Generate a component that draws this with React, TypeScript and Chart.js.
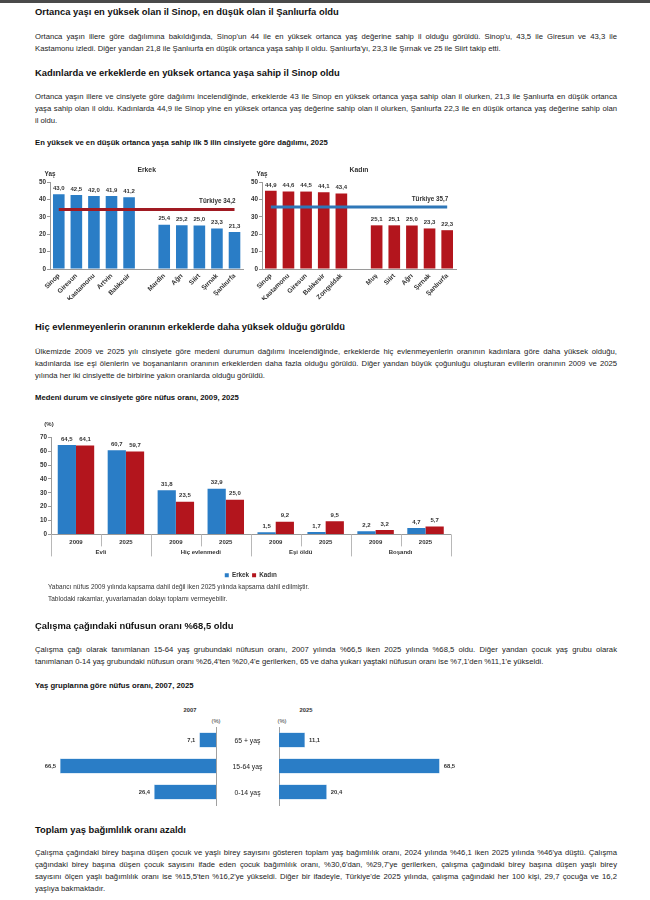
import React, { useEffect, useRef } from 'react';
import { Chart, registerables } from 'chart.js';
Chart.register(...registerables);

const FONT = "Arial, 'Liberation Sans', Helvetica, sans-serif";

// ---- Chart A: median age by province and sex, 2025 ----
const maleProvinces = ['Sinop', 'Giresun', 'Kastamonu', 'Artvin', 'Balıkesir', '', 'Mardin', 'Ağrı', 'Siirt', 'Şırnak', 'Şanlıurfa'];
const maleAges = [43.0, 42.5, 42.0, 41.9, 41.2, null, 25.4, 25.2, 25.0, 23.3, 21.3];
const maleTurkiye = 34.2;
const femaleProvinces = ['Sinop', 'Kastamonu', 'Giresun', 'Balıkesir', 'Zonguldak', '', 'Muş', 'Siirt', 'Ağrı', 'Şırnak', 'Şanlıurfa'];
const femaleAges = [44.9, 44.6, 44.5, 44.1, 43.4, null, 25.1, 25.1, 25.0, 23.3, 22.3];
const femaleTurkiye = 35.7;
const ageAxisMax = 50;
const ageAxisStep = 5;

// ---- Chart B: marital status by sex, 2009, 2025 ----
const maritalYears = ['2009', '2025', '2009', '2025', '2009', '2025', '2009', '2025'];
const maritalGroups = ['Evli', 'Hiç evlenmedi', 'Eşi öldü', 'Boşandı'];
const maritalMale = [64.5, 60.7, 31.8, 32.9, 1.5, 1.7, 2.2, 4.7];
const maritalFemale = [64.1, 59.7, 23.5, 25.0, 9.2, 9.5, 3.2, 5.7];
const maritalAxisMax = 70;
const maritalAxisStep = 10;

// ---- Chart C: population share by age group, 2007, 2025 ----
const ageGroups = ['65 + yaş', '15-64 yaş', '0-14 yaş'];
const share2007 = [7.1, 66.5, 26.4];
const share2025 = [11.1, 68.5, 20.4];
const shareAxisMax = 70;

const BLUE = '#2a7dc6';
const RED = '#b3151d';
const MALE_LINE = '#a01a22';
const FEMALE_LINE = '#2e77b8';
const AXIS = '#9a9a9a';
const LABEL = '#333';

const fmt = (v: number) => v.toFixed(1).replace('.', ',');

const valueLabels = (mode: 'top' | 'left' | 'right', font: string, gap: number) => ({
  id: 'valueLabels',
  afterDatasetsDraw(chart: any) {
    const { ctx } = chart;
    ctx.save();
    ctx.font = font;
    ctx.fillStyle = LABEL;
    chart.data.datasets.forEach((ds: any, i: number) => {
      const meta = chart.getDatasetMeta(i);
      if (meta.type !== 'bar') return;
      meta.data.forEach((el: any, j: number) => {
        const v = ds.data[j];
        if (v == null) return;
        if (mode === 'top') {
          ctx.textAlign = 'center';
          ctx.textBaseline = 'bottom';
          ctx.fillText(fmt(v), el.x, el.y - gap);
        } else if (mode === 'left') {
          ctx.textAlign = 'right';
          ctx.textBaseline = 'middle';
          ctx.fillText(fmt(v), el.x - gap, el.y);
        } else {
          ctx.textAlign = 'left';
          ctx.textBaseline = 'middle';
          ctx.fillText(fmt(v), el.x + gap, el.y);
        }
      });
    });
    ctx.restore();
  },
});

const panelDecor = (title: string, lineLabel: string) => ({
  id: 'panelDecor',
  afterDatasetsDraw(chart: any) {
    const { ctx, chartArea } = chart;
    ctx.save();
    ctx.fillStyle = LABEL;
    ctx.textBaseline = 'middle';
    ctx.textAlign = 'center';
    ctx.font = `bold 6.8px ${FONT}`;
    ctx.fillText(title, (chartArea.left + chartArea.right) / 2, chartArea.top - 12);
    ctx.font = `bold 6.3px ${FONT}`;
    ctx.fillText('Yaş', chartArea.left, chartArea.top - 8);
    const meta = chart.getDatasetMeta(0);
    const last = meta.data[meta.data.length - 1];
    ctx.textAlign = 'right';
    ctx.fillText(lineLabel, last.x + 1, last.y - 8);
    ctx.restore();
  },
});

const agePanelConfig = (labels: string[], values: (number | null)[], avg: number, barColor: string, lineColor: string, title: string, padRight: number) => ({
  type: 'bar',
  data: {
    labels,
    datasets: [
      {
        type: 'line',
        data: labels.map(() => avg),
        borderColor: lineColor,
        borderWidth: 3,
        pointRadius: 0,
        order: 0,
      },
      {
        type: 'bar',
        data: values,
        backgroundColor: barColor,
        barPercentage: 0.66,
        categoryPercentage: 1,
        order: 1,
      },
    ],
  },
  options: {
    responsive: false,
    animation: false,
    layout: { padding: { top: 22, right: padRight, bottom: 0, left: 0 } },
    plugins: { legend: { display: false }, tooltip: { enabled: false } },
    scales: {
      x: {
        grid: { display: false, drawTicks: false },
        border: { color: AXIS },
        ticks: {
          autoSkip: false,
          minRotation: 45,
          maxRotation: 45,
          padding: 3,
          color: LABEL,
          font: { size: 6.6, weight: 'bold', family: FONT },
        },
        afterFit: (s: any) => { s.height = 31; },
      },
      y: {
        min: 0,
        max: ageAxisMax,
        ticks: { stepSize: ageAxisStep, padding: 1, color: LABEL, font: { size: 6.3, weight: 'bold', family: FONT } },
        grid: { display: true, drawOnChartArea: false, tickLength: 3, color: AXIS },
        border: { color: AXIS },
        afterFit: (s: any) => { s.width = 30; },
      },
    },
  },
  plugins: [valueLabels('top', `bold 6px ${FONT}`, 3), panelDecor(title, `Türkiye ${fmt(avg)}`)],
});

const groupAxis = {
  id: 'groupAxis',
  afterDraw(chart: any) {
    const { ctx, chartArea } = chart;
    const x = chart.scales.x;
    const n = maritalYears.length;
    const bottom = chartArea.bottom;
    ctx.save();
    ctx.strokeStyle = '#b8b8b8';
    ctx.lineWidth = 1;
    for (let i = 0; i <= n; i++) {
      const bx = i === 0 ? chartArea.left : i === n ? chartArea.right : (x.getPixelForValue(i - 1) + x.getPixelForValue(i)) / 2;
      const long = i % 2 === 0;
      const px = Math.round(bx) + 0.5;
      ctx.beginPath();
      ctx.moveTo(px, bottom);
      ctx.lineTo(px, bottom + (long ? 22 : 12));
      ctx.stroke();
    }
    ctx.fillStyle = LABEL;
    ctx.font = `bold 6px ${FONT}`;
    ctx.textAlign = 'center';
    ctx.textBaseline = 'middle';
    maritalGroups.forEach((g, k) => {
      const cx = (x.getPixelForValue(2 * k) + x.getPixelForValue(2 * k + 1)) / 2;
      ctx.fillText(g, cx, bottom + 18);
    });
    ctx.fillText('(%)', chartArea.left - 2, chartArea.top - 13);
    ctx.restore();
  },
};

const maritalConfig = () => ({
  type: 'bar',
  data: {
    labels: maritalYears,
    datasets: [
      { label: 'Erkek', data: maritalMale, backgroundColor: BLUE, barPercentage: 1, categoryPercentage: 0.73 },
      { label: 'Kadın', data: maritalFemale, backgroundColor: RED, barPercentage: 1, categoryPercentage: 0.73 },
    ],
  },
  options: {
    responsive: false,
    animation: false,
    layout: { padding: { top: 27.3, right: 19.5, bottom: 0.7, left: 0 } },
    plugins: {
      tooltip: { enabled: false },
      legend: {
        display: true,
        position: 'bottom',
        fullSize: false,
        labels: {
          boxWidth: 4,
          boxHeight: 4,
          padding: 3,
          color: LABEL,
          font: { size: 6.3, weight: 'bold', family: FONT },
        },
      },
    },
    scales: {
      x: {
        grid: { display: false, drawTicks: false },
        border: { color: AXIS },
        ticks: { padding: 4, color: LABEL, font: { size: 6, weight: 'bold', family: FONT } },
        afterFit: (s: any) => { s.height = 34.6; },
      },
      y: {
        min: 0,
        max: maritalAxisMax,
        ticks: { stepSize: maritalAxisStep, padding: 1, color: LABEL, font: { size: 6.3, weight: 'bold', family: FONT } },
        grid: { display: true, drawOnChartArea: false, tickLength: 3, color: AXIS },
        border: { color: AXIS },
        afterFit: (s: any) => { s.width = 31; },
      },
    },
  },
  plugins: [valueLabels('top', `bold 6px ${FONT}`, 3), groupAxis],
});

const centerLabels = {
  id: 'centerLabels',
  afterDraw(chart: any) {
    const { ctx } = chart;
    const y = chart.scales.y;
    ctx.save();
    ctx.fillStyle = '#222';
    ctx.font = `6.8px ${FONT}`;
    ctx.textAlign = 'center';
    ctx.textBaseline = 'middle';
    ageGroups.forEach((g, i) => {
      ctx.fillText(g, y.left + y.width / 2, y.getPixelForValue(i) + 1);
    });
    ctx.restore();
  },
};

const shareConfig = (values: number[], left: boolean) => ({
  type: 'bar',
  data: {
    labels: ageGroups,
    datasets: [
      { data: values, backgroundColor: BLUE, borderColor: '#7fb2e0', borderWidth: 0.6, barPercentage: 0.58, categoryPercentage: 1 },
    ],
  },
  options: {
    indexAxis: 'y',
    responsive: false,
    animation: false,
    layout: { padding: left ? { top: 7, bottom: 5, left: 51.8, right: 2 } : { top: 7, bottom: 5, left: 0, right: 26.8 } },
    plugins: { legend: { display: false }, tooltip: { enabled: false } },
    scales: {
      x: { display: false, min: 0, max: shareAxisMax, reverse: left },
      y: {
        position: left ? 'right' : 'left',
        ticks: { display: false },
        grid: { display: false, drawTicks: false },
        border: { display: true, color: '#a0a0a0' },
        afterFit: (s: any) => { s.width = left ? 0 : 63; },
      },
    },
  },
  plugins: left ? [valueLabels('left', `bold 5.8px ${FONT}`, 4)] : [valueLabels('right', `bold 5.8px ${FONT}`, 4), centerLabels],
});

function ChartBox({ left, top, width, height, make }: { left: number; top: number; width: number; height: number; make: () => any }) {
  const ref = useRef<HTMLCanvasElement>(null);
  useEffect(() => {
    const chart = new Chart(ref.current as HTMLCanvasElement, make());
    return () => chart.destroy();
  }, []);
  return <canvas ref={ref} width={width} height={height} style={{ position: 'absolute', left, top, width, height }} />;
}

const H = ({ y, size = 9.4, children }: any) => (
  <div style={{ position: 'absolute', left: 35, top: y - 6, lineHeight: '12px', fontSize: size, fontWeight: 700, color: '#111', whiteSpace: 'nowrap' }}>{children}</div>
);

const P = ({ y, last = false, children }: any) => (
  <div
    style={{
      position: 'absolute',
      left: 35,
      top: y - 6.5,
      width: 582,
      height: 12,
      lineHeight: '12px',
      fontSize: 7.7,
      color: '#222',
      textAlign: 'justify',
      textAlignLast: last ? 'left' : 'justify',
    } as any}
  >
    {children}
  </div>
);

const Small = ({ x, y, w = 40, bold = false, align = 'center', size = 5.8, children }: any) => (
  <div
    style={{
      position: 'absolute',
      left: align === 'center' ? x - w / 2 : x,
      top: y - 5,
      width: w,
      lineHeight: '10px',
      fontSize: size,
      fontWeight: bold ? 700 : 400,
      color: '#333',
      textAlign: align,
      whiteSpace: 'nowrap',
    }}
  >
    {children}
  </div>
);

export default function App() {
  return (
    <div style={{ position: 'absolute', left: 0, top: 0, width: 650, height: 900, background: '#fff', fontFamily: FONT, overflow: 'hidden' }}>
      <div style={{ position: 'absolute', left: 0, top: 0, width: 650, height: 3, background: '#4a4a4a' }} />

      <H y={12}>Ortanca yaşı en yüksek olan il Sinop, en düşük olan il Şanlıurfa oldu</H>
      <P y={37}>Ortanca yaşın illere göre dağılımına bakıldığında, Sinop'un 44 ile en yüksek ortanca yaş değerine sahip il olduğu görüldü. Sinop'u, 43,5 ile Giresun ve 43,3 ile</P>
      <P y={49} last>Kastamonu izledi. Diğer yandan 21,8 ile Şanlıurfa en düşük ortanca yaşa sahip il oldu. Şanlıurfa'yı, 23,3 ile Şırnak ve 25 ile Siirt takip etti.</P>

      <H y={73}>Kadınlarda ve erkeklerde en yüksek ortanca yaşa sahip il Sinop oldu</H>
      <P y={97}>Ortanca yaşın illere ve cinsiyete göre dağılımı incelendiğinde, erkeklerde 43 ile Sinop en yüksek ortanca yaşa sahip olan il olurken, 21,3 ile Şanlıurfa en düşük ortanca</P>
      <P y={109}>yaşa sahip olan il oldu. Kadınlarda 44,9 ile Sinop yine en yüksek ortanca yaş değerine sahip olan il olurken, Şanlıurfa 22,3 ile en düşük ortanca yaş değerine sahip olan</P>
      <P y={121} last>il oldu.</P>

      <H y={143} size={7.7}>En yüksek ve en düşük ortanca yaşa sahip ilk 5 ilin cinsiyete göre dağılımı, 2025</H>
      <ChartBox left={20} top={160} width={230} height={140} make={() => agePanelConfig(maleProvinces, maleAges, maleTurkiye, BLUE, MALE_LINE, 'Erkek', 6.7)} />
      <ChartBox left={232} top={160} width={238} height={140} make={() => agePanelConfig(femaleProvinces, femaleAges, femaleTurkiye, RED, FEMALE_LINE, 'Kadın', 14)} />

      <H y={327}>Hiç evlenmeyenlerin oranının erkeklerde daha yüksek olduğu görüldü</H>
      <P y={352}>Ülkemizde 2009 ve 2025 yılı cinsiyete göre medeni durumun dağılımı incelendiğinde, erkeklerde hiç evlenmeyenlerin oranının kadınlara göre daha yüksek olduğu,</P>
      <P y={364}>kadınlarda ise eşi ölenlerin ve boşananların oranının erkeklerden daha fazla olduğu görüldü. Diğer yandan büyük çoğunluğu oluşturan evlilerin oranının 2009 ve 2025</P>
      <P y={376} last>yılında her iki cinsiyette de birbirine yakın oranlarda olduğu görüldü.</P>

      <H y={398} size={7.7}>Medeni durum ve cinsiyete göre nüfus oranı, 2009, 2025</H>
      <ChartBox left={20} top={410} width={450} height={179} make={maritalConfig} />
      <Small x={48} y={587} w={400} align="left" size={6.5}>Yabancı nüfus 2009 yılında kapsama dahil değil iken 2025 yılında kapsama dahil edilmiştir.</Small>
      <Small x={48} y={599} w={400} align="left" size={6.5}>Tablodaki rakamlar, yuvarlamadan dolayı toplamı vermeyebilir.</Small>

      <H y={626}>Çalışma çağındaki nüfusun oranı %68,5 oldu</H>
      <P y={650}>Çalışma çağı olarak tanımlanan 15-64 yaş grubundaki nüfusun oranı, 2007 yılında %66,5 iken 2025 yılında %68,5 oldu. Diğer yandan çocuk yaş grubu olarak</P>
      <P y={662} last>tanımlanan 0-14 yaş grubundaki nüfusun oranı %26,4'ten %20,4'e gerilerken, 65 ve daha yukarı yaştaki nüfusun oranı ise %7,1'den %11,1'e yükseldi.</P>

      <H y={686} size={7.7}>Yaş gruplarına göre nüfus oranı, 2007, 2025</H>
      <Small x={190} y={710} bold>2007</Small>
      <Small x={306} y={710} bold>2025</Small>
      <Small x={216} y={721}>(%)</Small>
      <Small x={282} y={721}>(%)</Small>
      <ChartBox left={0} top={720} width={218} height={90} make={() => shareConfig(share2007, true)} />
      <ChartBox left={216} top={720} width={254} height={90} make={() => shareConfig(share2025, false)} />

      <H y={830}>Toplam yaş bağımlılık oranı azaldı</H>
      <P y={853}>Çalışma çağındaki birey başına düşen çocuk ve yaşlı birey sayısını gösteren toplam yaş bağımlılık oranı, 2024 yılında %46,1 iken 2025 yılında %46'ya düştü. Çalışma</P>
      <P y={865}>çağındaki birey başına düşen çocuk sayısını ifade eden çocuk bağımlılık oranı, %30,6'dan, %29,7'ye gerilerken, çalışma çağındaki birey başına düşen yaşlı birey</P>
      <P y={877}>sayısını ölçen yaşlı bağımlılık oranı ise %15,5'ten %16,2'ye yükseldi. Diğer bir ifadeyle, Türkiye'de 2025 yılında, çalışma çağındaki her 100 kişi, 29,7 çocuğa ve 16,2</P>
      <P y={889} last>yaşlıya bakmaktadır.</P>
    </div>
  );
}
